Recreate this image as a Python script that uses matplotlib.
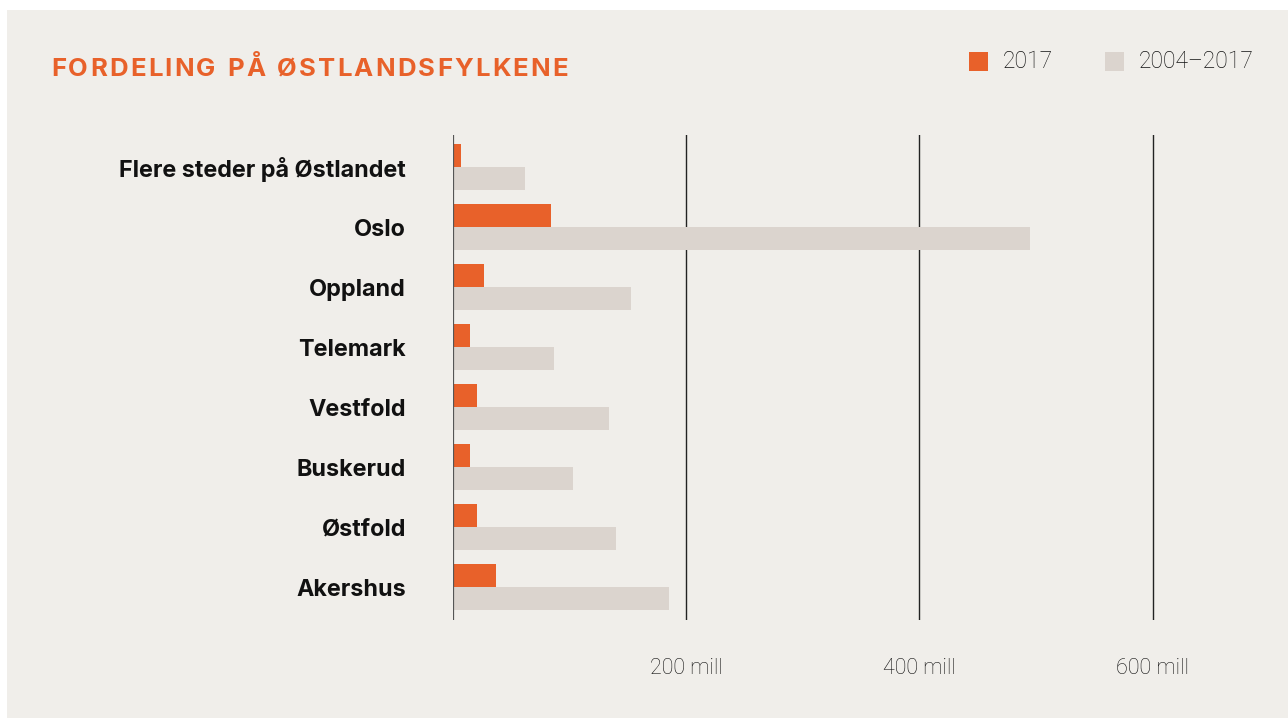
import matplotlib
matplotlib.use("Agg")
import matplotlib.pyplot as plt
from matplotlib.patches import Rectangle

categories = [
    "Flere steder på Østlandet",
    "Oslo",
    "Oppland",
    "Telemark",
    "Vestfold",
    "Buskerud",
    "Østfold",
    "Akershus",
]
values_2017 = [7, 84, 27, 15, 21, 15, 21, 37]
values_total = [62, 495, 153, 87, 134, 103, 140, 185]
tick_values = [200, 400, 600]
tick_labels = ["200 mill", "400 mill", "600 mill"]
legend_labels = ["2017", "2004–2017"]
title = "FORDELING PÅ ØSTLANDSFYLKENE"

ORANGE = "#E8612A"
GREY = "#DBD4CE"
BG = "#F0EEEA"
W, H = 1288, 718


def px(x, y):
    # pixel (from top-left) -> figure fraction
    return x / W, 1 - y / H


def main():
    fig = plt.figure(figsize=(W / 100, H / 100), dpi=100)
    fig.patch.set_facecolor("white")
    fig.patches.append(
        Rectangle(px(7, H), (W - 7) / W, (H - 10) / H,
                  transform=fig.transFigure, facecolor=BG,
                  edgecolor="none", zorder=-10)
    )

    left, right, top, bottom = 453, 1281, 135, 620
    ax = fig.add_axes([left / W, 1 - bottom / H,
                       (right - left) / W, (bottom - top) / H])
    ax.set_facecolor("none")

    pos = list(range(len(categories)))
    off, h = 0.19, 0.38
    ax.barh([p - off for p in pos], values_2017, height=h,
            color=ORANGE, zorder=2)
    ax.barh([p + off for p in pos], values_total, height=h,
            color=GREY, zorder=2)

    for v in tick_values:
        ax.axvline(v, color="#222222", lw=1.0, zorder=1)
    ax.axvline(0, color="#555555", lw=1.6, zorder=3)

    ax.set_xlim(0, 710)
    ax.set_ylim(7.55, -0.535)

    for s in ax.spines.values():
        s.set_visible(False)

    ax.set_xticks(tick_values)
    ax.set_xticklabels(tick_labels, family="Roboto", weight="light",
                       fontsize=15.5, color="#111111")
    ax.tick_params(axis="x", length=0, pad=27)

    ax.set_yticks(pos)
    ax.set_yticklabels(categories, family="Inter", weight="bold",
                       fontsize=16.8, color="#111111")
    ax.tick_params(axis="y", length=0, pad=34)

    # legend
    for (x0, lab, col) in [(969, legend_labels[0], ORANGE),
                           (1105, legend_labels[1], GREY)]:
        fig.patches.append(
            Rectangle(px(x0, 71), 19 / W, 19 / H,
                      transform=fig.transFigure, facecolor=col,
                      edgecolor="none")
        )
        fig.text(*px(x0 + 34, 62), lab, family="Roboto", weight="light",
                 fontsize=16.5, color="#111111", va="center", ha="left")

    # title with letter spacing
    renderer = fig.canvas.get_renderer()
    size = 18.5
    probe = fig.text(0, 0, "a", family="Inter", weight="bold", fontsize=size)
    space_w = probe.get_window_extent(renderer).width * 0.5
    probe.remove()
    chars = []
    widths = []
    for c in title:
        t = fig.text(0, 0, c, family="Inter", weight="bold",
                     fontsize=size, color=ORANGE, va="baseline")
        chars.append(t)
        widths.append(t.get_window_extent(renderer).width
                      if c != " " else space_w)
    natural = sum(widths)
    target = 568 - 51
    spacing = (target - natural) / (len(title) - 1)
    x = 51
    for t, w in zip(chars, widths):
        t.set_position(px(x, 76))
        x += w + spacing

    fig.savefig("out.png", dpi=100, facecolor=fig.get_facecolor())
    plt.close(fig)


if __name__ == "__main__":
    main()
